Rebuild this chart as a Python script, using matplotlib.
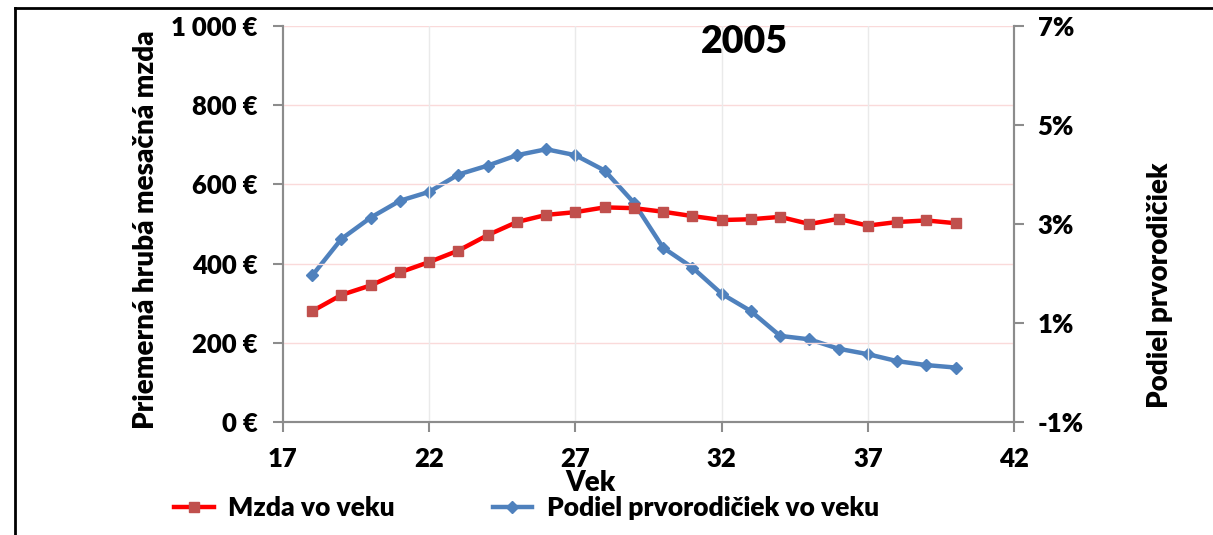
import matplotlib
matplotlib.use('Agg')
import matplotlib.pyplot as plt
from matplotlib.lines import Line2D
from matplotlib.ticker import FuncFormatter

# data
vek = [18, 19, 20, 21, 22, 23, 24, 25, 26, 27, 28, 29, 30, 31, 32, 33, 34, 35, 36, 37, 38, 39, 40]
mzda = [280, 321, 345, 378, 404, 433, 472, 505, 523, 530, 542, 540, 531, 520, 510, 512, 518, 500, 513, 496, 505, 509, 502]
podiel = [1.96, 2.70, 3.13, 3.47, 3.65, 4.00, 4.18, 4.39, 4.51, 4.39, 4.08, 3.43, 2.52, 2.12,
          1.59, 1.24, 0.74, 0.67, 0.48, 0.37, 0.23, 0.15, 0.10]

x_ticks = [17, 22, 27, 32, 37, 42]
y_ticks = [0, 200, 400, 600, 800, 1000]
y2_ticks = [-1, 1, 3, 5, 7]

plt.rcParams['font.family'] = ['Lato', 'DejaVu Sans']
plt.rcParams['font.weight'] = 'heavy'
W = 'heavy'

fig = plt.figure(figsize=(12.13, 5.35), dpi=100)
ax = fig.add_axes([0.2333, 0.2112, 0.6027, 0.7402])
ax2 = ax.twinx()

red_line = '#FF0000'
red_mark = '#C0504D'
blue = '#4F81BD'
grey = '#8C8C8C'

l1, = ax.plot(vek, mzda, color=red_line, lw=3.2, marker='s', ms=7.5,
              mfc=red_mark, mec=red_mark, zorder=3, label='Mzda vo veku')
l2, = ax2.plot(vek, podiel, color=blue, lw=3.2, marker='D', ms=6.5,
               mfc=blue, mec=blue, zorder=3, label='Podiel prvorodičiek vo veku')

ax.set_xlim(17, 42)
ax.set_ylim(0, 1000)
ax2.set_ylim(-1, 7)
ax.set_xticks(x_ticks)
ax.set_yticks(y_ticks)
ax2.set_yticks(y2_ticks)

ax.yaxis.set_major_formatter(FuncFormatter(lambda v, p: f'{int(v):,} €'.replace(',', ' ')))
ax2.yaxis.set_major_formatter(FuncFormatter(lambda v, p: f'{int(v)}%'))

# grid
for y in y_ticks[1:]:
    ax.axhline(y, color='#FADADA', lw=1, zorder=0)
for x in x_ticks[1:-1]:
    ax.axvline(x, color='#EAEAEA', lw=1, zorder=0)

for a in (ax, ax2):
    a.spines['top'].set_visible(False)
    for s in ('left', 'bottom', 'right'):
        a.spines[s].set_color(grey)
        a.spines[s].set_linewidth(1.5)
    a.tick_params(colors=grey, width=1.5, length=7, labelsize=18.5, labelcolor='black')
ax.tick_params(axis='x', pad=11)
ax.tick_params(axis='y', pad=11)
ax2.tick_params(axis='y', pad=10)
for lab in ax.get_xticklabels() + ax.get_yticklabels() + ax2.get_yticklabels():
    lab.set_fontweight(W)

ax.set_zorder(ax2.get_zorder() + 1)
ax.patch.set_visible(False)

fig.text(0.614, 0.921, '2005', fontsize=27, fontweight=W, ha='center', va='center')
fig.text(0.120, 0.570, 'Priemerná hrubá mesačná mzda', fontsize=20, fontweight=W,
         rotation=90, ha='center', va='center')
fig.text(0.956, 0.467, 'Podiel prvorodičiek', fontsize=20, fontweight=W,
         rotation=90, ha='center', va='center')
fig.text(0.487, 0.097, 'Vek', fontsize=20, fontweight=W, ha='center', va='center')

fig.legend(handles=[l1, l2], loc='center left', bbox_to_anchor=(0.135, 0.05), ncol=2,
           frameon=False, handlelength=1.5, handletextpad=0.55, borderaxespad=0,
           columnspacing=3.7, prop={'weight': W, 'size': 19})

# outer frame (left and top edges)
fig.add_artist(Line2D([15 / 1213, 15 / 1213], [0, 1 - 8 / 535], color='black', lw=2,
                      transform=fig.transFigure))
fig.add_artist(Line2D([15 / 1213, 1], [1 - 8 / 535, 1 - 8 / 535], color='black', lw=2,
                      transform=fig.transFigure))

fig.savefig('out.png', dpi=100)
